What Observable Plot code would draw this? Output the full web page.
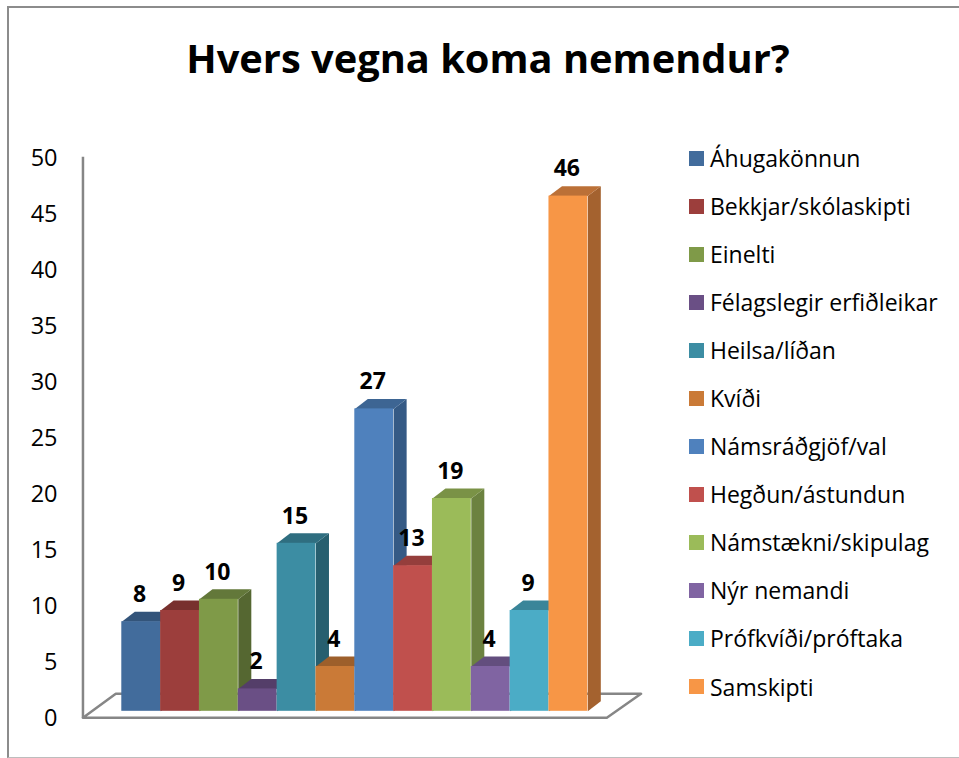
<!DOCTYPE html>
<html lang="is">
<head>
<meta charset="utf-8">
<script src="https://cdn.jsdelivr.net/npm/d3@7"></script>
<script src="https://cdn.jsdelivr.net/npm/@observablehq/plot@0.6"></script>
<style>
  html, body { margin: 0; padding: 0; background: #fff; overflow: hidden; }
  #page { position: relative; width: 959px; height: 758px; font-family: "Open Sans", sans-serif; color: #000; overflow: hidden; }
  #frame { position: absolute; left: 7px; top: 6px; width: 1000px; height: 749px; border-left: 2px solid #8c8c8c; border-top: 2px solid #8c8c8c; border-bottom: 1px solid #bdbdbd; }
  #chart { position: absolute; left: 0; top: 0; }
  #chart svg { background: transparent; }
  #title { position: absolute; left: 0; width: 976px; top: 30px; text-align: center; font-weight: 700; font-size: 39.8px; line-height: 56px; }
  #legend { position: absolute; left: 689px; top: 134px; }
  .item { height: 48.05px; display: flex; align-items: center; font-size: 23px; white-space: nowrap; }
  .swatch { width: 15px; height: 15px; margin-right: 6px; flex: none; }
</style>
</head>
<body>
<div id="page">
  <div id="frame"></div>
  <div id="chart"></div>
  <div id="title">Hvers vegna koma nemendur?</div>
  <div id="legend"></div>
</div>
<script>
const categories = ["Áhugakönnun", "Bekkjar/skólaskipti", "Einelti", "Félagslegir erfiðleikar", "Heilsa/líðan", "Kvíði", "Námsráðgjöf/val", "Hegðun/ástundun", "Námstækni/skipulag", "Nýr nemandi", "Prófkvíði/próftaka", "Samskipti"];
const values = [8, 9, 10, 2, 15, 4, 27, 13, 19, 4, 9, 46];
const frontColors = ["#426c9c", "#9c3e3c", "#7f9a48", "#6a4f85", "#3c8da3", "#ca7a37", "#4f81bd", "#c0504d", "#9bbb59", "#8064a2", "#4bacc6", "#f79646"];
const topColors = ["#33547a", "#78302e", "#63783a", "#543e69", "#2f6e80", "#9d5f2b", "#3d6593", "#953e3c", "#7a9246", "#634e7e", "#3a8599", "#bb7037"];
const sideColors = ["#2c4768", "#692a28", "#556731", "#47345a", "#275f6f", "#8a5325", "#355a85", "#85352f", "#6c8240", "#56436e", "#327385", "#a4622f"];
const yTicks = [0, 5, 10, 15, 20, 25, 30, 35, 40, 45, 50];

// Oblique projection depth, in scale units
const depthX = 0.335, depthY = 0.89;
const floorOutline = [[-1.0, -0.58], [12.49, -0.58], [13.37, 1.56], [-0.155, 1.56], [-1.0, -0.58]];
const axisTop = 49.46, axisBottom = -0.62;
const axisColor = "#868686";

const table = categories.map((name, i) => ({name, i, value: values[i]}));

function barMarks(d) {
  const {i, value: v} = d;
  const side = [[i + 1, 0], [i + 1 + depthX, depthY], [i + 1 + depthX, v + depthY], [i + 1, v]];
  const top = [[i, v], [i + depthX, v + depthY], [i + 1 + depthX, v + depthY], [i + 1, v]];
  const poly = (pts, fill) => Plot.line(pts, {x: p => p[0], y: p => p[1], fill, stroke: "none"});
  return [
    poly(side, sideColors[i]),
    poly(top, topColors[i]),
    Plot.rect([d], {x1: p => p.i, x2: p => p.i + 1, y1: 0, y2: p => p.value, fill: frontColors[i], inset: 0})
  ];
}

const chart = Plot.plot({
  width: 959,
  height: 758,
  marginLeft: 121,
  marginRight: 0,
  marginTop: 0,
  marginBottom: 0,
  style: {fontFamily: "'Open Sans', sans-serif", color: "#000"},
  x: {type: "linear", domain: [0, 12], range: [121.3, 587.3], axis: null},
  y: {type: "linear", domain: [0, 50], range: [710.8, 150.8], axis: null},
  marks: [
    Plot.line(floorOutline, {x: p => p[0], y: p => p[1], stroke: axisColor, strokeWidth: 2.5}),
    Plot.ruleX([-1.0], {y1: axisBottom, y2: axisTop, stroke: axisColor, strokeWidth: 2.5}),
    Plot.axisY(yTicks, {anchor: "left", tickSize: 0, tickPadding: 64, fontSize: 23.5, dy: 7.5, label: null, tickFormat: d => String(d)}),
    ...table.flatMap(barMarks),
    Plot.text(table, {x: d => d.i + 0.46, y: "value", text: d => String(d.value), dy: -27, fontSize: 23, fontWeight: 700, fill: "#000"})
  ]
});
document.getElementById("chart").appendChild(chart);

const legend = d3.select("#legend");
categories.forEach((name, i) => {
  const item = legend.append("div").attr("class", "item");
  item.append("div").attr("class", "swatch").style("background", frontColors[i]);
  item.append("span").text(name);
});
</script>
</body>
</html>
